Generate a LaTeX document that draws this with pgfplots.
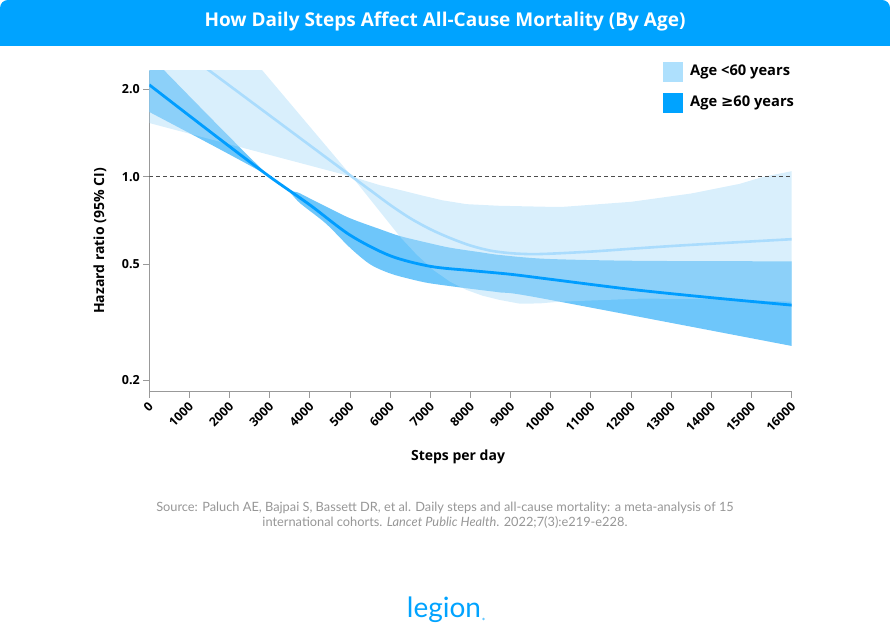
\documentclass[border=0pt]{standalone}
\usepackage{fontspec}
\setmainfont{Open Sans}
\newfontfamily\lato{Lato}
\newfontfamily\dejavu{DejaVu Sans}
\usepackage{pgfplots}
\pgfplotsset{compat=1.18}
\usepgfplotslibrary{fillbetween}
\usepackage{pgfplotstable}
\definecolor{banner}{RGB}{0,163,255}
\definecolor{oldline}{RGB}{0,157,255}
\definecolor{oldband}{RGB}{110,198,250}
\definecolor{youngband}{RGB}{174,221,249}
\definecolor{youngline}{RGB}{170,220,253}
\definecolor{legendlight}{RGB}{174,224,253}
\definecolor{axisgray}{RGB}{153,153,153}
\definecolor{srcgray}{RGB}{150,150,150}

% Age >=60: hazard ratio line
\pgfplotstableread{
x y
0 2.07
1000 1.62
2000 1.27
3000 1.0
4000 0.80
5000 0.63
6000 0.535
7000 0.492
8000 0.476
9000 0.462
10000 0.444
12000 0.41
14000 0.384
16000 0.362
}\oldmid
\pgfplotstableread{
x y
0 2.62
3000 1.0
3760 0.876
4400 0.79
5000 0.72
5750 0.66
6250 0.625
7000 0.59
7500 0.57
8250 0.55
8750 0.538
9900 0.522
12200 0.514
16000 0.512
}\oldup
\pgfplotstableread{
x y
0 1.67
3000 1.0
3760 0.81
4400 0.69
5000 0.57
5500 0.50
6000 0.465
6500 0.445
7000 0.43
8000 0.412
8750 0.40
9730 0.383
16000 0.262
}\oldlo
% Age <60
\pgfplotstableread{
x y
0 3.3
5050 1.0
5500 0.90
6000 0.80
6500 0.72
7000 0.66
7500 0.615
8000 0.58
8500 0.557
9000 0.546
9500 0.542
10000 0.544
11000 0.553
12200 0.568
13200 0.58
14600 0.595
16000 0.61
}\youngmid
\pgfplotstableread{
x y
0 6.7
5050 1.0
5750 0.935
6250 0.90
6750 0.865
7300 0.83
7900 0.805
8700 0.795
10000 0.788
10300 0.788
12000 0.82
13500 0.876
14700 0.945
15300 1.0
16000 1.045
}\youngup
\pgfplotstableread{
x y
0 1.53
5050 1.0
6245 0.622
6660 0.54
7075 0.478
7500 0.435
7905 0.408
8300 0.39
8735 0.377
9235 0.366
9730 0.367
10230 0.372
12220 0.381
14000 0.38
16000 0.372
}\younglo

\begin{document}
\begin{tikzpicture}
\begin{scope}[x=1bp,y=1bp]
\useasboundingbox (0,0) rectangle (890,644);
\fill[banner, rounded corners=8bp] (0,598) rectangle (890,644);
\fill[banner] (0,598) rectangle (890,620);
\node[text=white, font=\fontsize{19bp}{21bp}\selectfont\bfseries] at (445,622) {How Daily Steps Affect All-Cause Mortality (By Age)};
\end{scope}

\begin{axis}[
  at={(149.3bp,252bp)}, anchor=south west,
  scale only axis, width=642.4bp, height=321bp,
  xmin=0, xmax=16000, ymode=log, ymin=0.182, ymax=2.31,
  axis lines=left, axis line style={-, draw=axisgray, line width=1bp},
  tick style={draw=axisgray, line width=1bp}, tick align=outside, major tick length=6bp,
  xtick={0,1000,...,16000}, scaled x ticks=false,
  xticklabels={0,1000,2000,3000,4000,5000,6000,7000,8000,9000,10000,11000,12000,13000,14000,15000,16000},
  xticklabel style={xshift=4bp, yshift=-4bp, rotate=45, anchor=east, font=\fontsize{12.3bp}{14bp}\selectfont\bfseries},
  ytick={0.2,0.5,1,2}, yticklabels={0.2,0.5,1.0,2.0}, yminorticks=false,
  yticklabel style={font=\fontsize{12.5bp}{15bp}\selectfont\bfseries},
  /pgf/number format/assume math mode=true,
]
\addplot[draw=black!70, dash pattern=on 4bp off 3bp, line width=0.9bp] coordinates {(0,1) (16000,1)};
\addplot[draw=none, name path=ou, smooth] table[x=x,y=y] {\oldup};
\addplot[draw=none, name path=ol, smooth] table[x=x,y=y] {\oldlo};
\addplot[fill=oldband, draw=none] fill between[of=ou and ol];
\addplot[draw=none, name path=yu] table[x=x,y=y] {\youngup};
\addplot[draw=none, name path=yl] table[x=x,y=y] {\younglo};
\addplot[fill=youngband, fill opacity=0.47, draw=none] fill between[of=yu and yl];
\addplot[youngline, line width=2.6bp, smooth] table[x=x,y=y] {\youngmid};
\addplot[oldline, line width=2.8bp, smooth] table[x=x,y=y] {\oldmid};
\end{axis}

\begin{scope}[x=1bp,y=1bp]
\node[font=\fontsize{14bp}{16bp}\selectfont\bfseries] at (458,187) {Steps per day};
\node[font=\fontsize{14bp}{16bp}\selectfont\bfseries, rotate=90] at (100,403) {Hazard ratio (95\% CI)};

\fill[legendlight] (663,562) rectangle (683,582);
\fill[banner] (663,531) rectangle (683,551);
\node[anchor=west, font=\fontsize{14.7bp}{16bp}\selectfont\bfseries, inner sep=0] at (690,572) {Age <60 years};
\node[anchor=west, font=\fontsize{14.7bp}{16bp}\selectfont\bfseries, inner sep=0] at (690,541) {Age {\dejavu\bfseries ≥}60 years};

\node[text=srcgray, font=\lato\fontsize{12.8bp}{14bp}\selectfont] at (445,136) {Source: Paluch AE, Bajpai S, Bassett DR, et al. Daily steps and all-cause mortality: a meta-analysis of 15};
\node[text=srcgray, font=\lato\fontsize{12.8bp}{14bp}\selectfont] at (445,122) {international cohorts. \textit{Lancet Public Health}. 2022;7(3):e219-e228.};

\node[text=banner, font=\lato\fontsize{28bp}{30bp}\selectfont] at (444,34) {legion};
\fill[banner!60] (483.5,25) circle (1.3);
\end{scope}
\end{tikzpicture}
\end{document}
